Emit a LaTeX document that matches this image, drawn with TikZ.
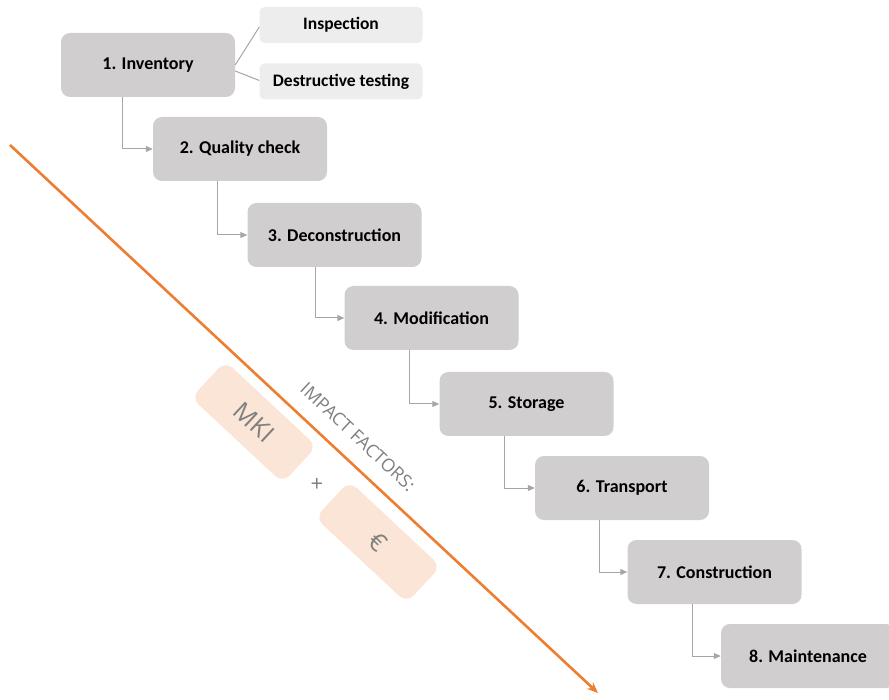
\documentclass[tikz,border=0pt]{standalone}
\usepackage{fontspec}
\setmainfont{Carlito}
\newfontfamily\impactfont{Open Sans}
\usetikzlibrary{arrows.meta,calc}

\definecolor{boxgray}{HTML}{D0CECE}
\definecolor{subgray}{HTML}{EDEDED}
\definecolor{linegray}{HTML}{A6A6A6}
\definecolor{impactorange}{HTML}{ED7D31}
\definecolor{impactpeach}{HTML}{FBE5D6}
\definecolor{impacttext}{HTML}{7F7F7F}

\tikzset{
  stepbox/.style={fill=boxgray, rounded corners=9pt, inner sep=0pt,
    minimum width=174pt, minimum height=64pt,
    font=\bfseries\fontsize{18}{20}\selectfont},
  subbox/.style={fill=subgray, rounded corners=5pt, inner sep=0pt,
    minimum width=163pt, minimum height=36pt,
    font=\bfseries\fontsize{17.5}{20}\selectfont},
  flow/.style={draw=linegray, line width=1pt, -{Triangle[length=7pt,width=6pt]}},
  branch/.style={draw=linegray, line width=1pt},
  impactbox/.style={fill=impactpeach, rounded corners=10pt, inner sep=0pt,
    minimum width=125pt, minimum height=50pt, rotate=-43,
    text=impacttext, font=\impactfont\fontsize{25}{27}\selectfont},
}

\begin{document}
\begin{tikzpicture}
  \clip (0pt,0pt) rectangle (889pt,-700pt);

  %% steps
  \node[stepbox] (b1) at (148pt,-65pt) {1. Inventory};
  \node[stepbox] (b2) at (240pt,-149pt) {2. Quality check};
  \node[stepbox] (b3) at (334.5pt,-235pt) {3. Deconstruction};
  \node[stepbox] (b4) at (431.5pt,-318pt) {4. Modification};
  \node[stepbox] (b5) at (526.5pt,-404pt) {5. Storage};
  \node[stepbox] (b6) at (622pt,-488pt) {6. Transport};
  \node[stepbox] (b7) at (714.5pt,-572pt) {7. Construction};
  \node[stepbox] (b8) at (808pt,-656pt) {8. Maintenance};

  %% inventory branches
  \node[subbox] (insp) at (341pt,-25pt) {Inspection};
  \node[subbox] (dest) at (341pt,-81.5pt) {Destructive testing};
  \draw[branch] (b1.east) -- ([yshift=-2pt]insp.west);
  \draw[branch] ([yshift=-6pt]b1.east) -- ([yshift=1pt]dest.west);

  %% step connectors
  \draw[flow] ($(b1.south west)+(62pt,0)$) |- (b2.west);
  \draw[flow] ($(b2.south west)+(65pt,0)$) |- (b3.west);
  \draw[flow] ($(b3.south west)+(68pt,0)$) |- (b4.west);
  \draw[flow] ($(b4.south west)+(65pt,0)$) |- (b5.west);
  \draw[flow] ($(b5.south west)+(65pt,0)$) |- (b6.west);
  \draw[flow] ($(b6.south west)+(65pt,0)$) |- (b7.west);
  \draw[flow] ($(b7.south west)+(65pt,0)$) |- (b8.west);

  %% impact factors
  \coordinate (imstart) at (10pt,-145pt);
  \coordinate (imend) at (598pt,-693pt);
  \draw[impactorange, line width=2.6pt, -{Stealth[length=11pt,width=9pt]}] (imstart) -- (imend);
  \node[rotate=-43, text=impacttext, font=\impactfont\fontsize{18}{20}\selectfont]
    (factors) at (358pt,-437pt) {IMPACT FACTORS:};
  \node[impactbox] (mki) at (254pt,-422pt) {MKI};
  \node[impactbox] (euro) at (378pt,-542pt) {€};
  \node[text=impacttext, font=\impactfont\fontsize{22}{24}\selectfont]
    (plus) at (317pt,-485pt) {+};
\end{tikzpicture}
\end{document}
